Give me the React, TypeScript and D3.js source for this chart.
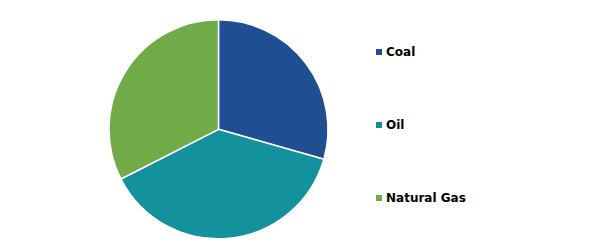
import React from "react";
import * as d3 from "d3";

const categories = ["Coal", "Oil", "Natural Gas"];
const values = [29.4, 38.1, 32.5];
const colors = ["#1F4E92", "#13929E", "#70AB48"];

export default function App() {
  const width = 590;
  const height = 249;
  const cx = 218.5;
  const cy = 129.3;
  const r = 109.5;
  const pie = d3.pie<number>().sort(null).value((d) => d);
  const arcs = pie(values);
  const arc = d3.arc<d3.PieArcDatum<number>>().innerRadius(0).outerRadius(r);
  const legendY = d3.scalePoint<string>().domain(categories).range([52, 198]);
  return (
    <svg width={width} height={height} style={{ position: "absolute", left: 0, top: 0 }}>
      <rect width={width} height={height} fill="#fff" />
      <g transform={`translate(${cx},${cy})`}>
        {arcs.map((a, i) => (
          <path key={i} d={arc(a) || ""} fill={colors[i]} stroke="#fff" strokeWidth={1.5} strokeLinejoin="round" />
        ))}
      </g>
      {categories.map((c, i) => (
        <g key={c} transform={`translate(376,${legendY(c)})`}>
          <rect x={0} y={-3} width={6} height={6} fill={colors[i]} />
          <text x={10} y={0} dy="0.35em" fontFamily="DejaVu Sans, Verdana, sans-serif" fontWeight="bold" fontSize={12} fill="#000">
            {c}
          </text>
        </g>
      ))}
    </svg>
  );
}
